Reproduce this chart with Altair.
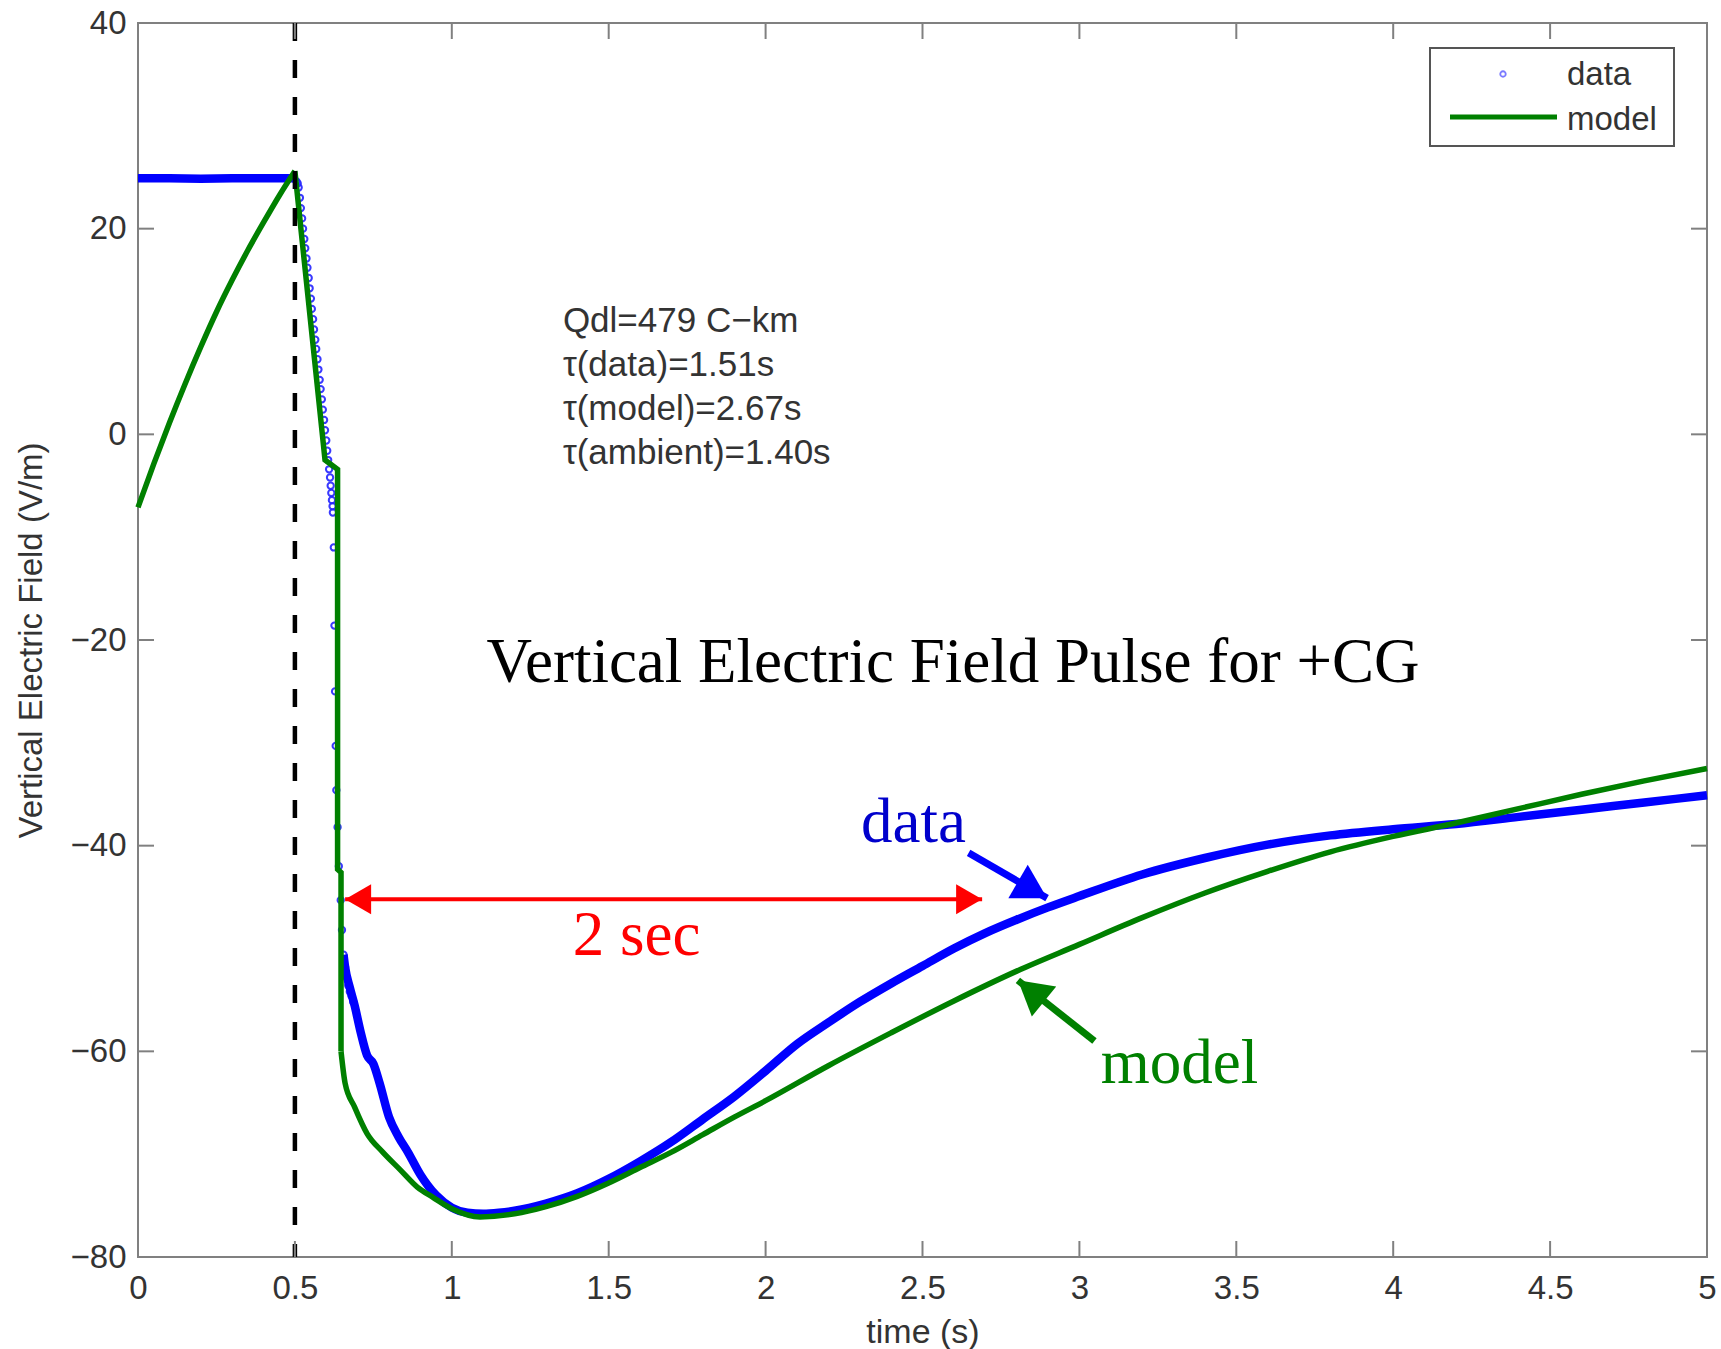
import altair as alt
import pandas as pd

# ---------------- values ----------------
# measured data, flat part before the flash
data_flat_t = [0.0, 0.1, 0.2, 0.3, 0.4, 0.5]
data_flat_v = [24.9, 24.9, 24.85, 24.9, 24.9, 24.9]

# measured data, fast drop (individual markers visible)
data_drop_t = [0.505, 0.509, 0.512, 0.516, 0.519, 0.523, 0.526, 0.530, 0.533, 0.537, 0.540,
               0.544, 0.547, 0.551, 0.554, 0.558, 0.561, 0.565, 0.568, 0.572,
               0.575, 0.579, 0.582, 0.586, 0.589, 0.593, 0.596, 0.600, 0.603, 0.606,
               0.609, 0.612, 0.614, 0.616, 0.618, 0.620, 0.621, 0.624,
               0.626, 0.628, 0.630, 0.632, 0.636, 0.640, 0.646, 0.650, 0.655, 0.660,
               0.665, 0.670, 0.675, 0.680, 0.686]
data_drop_v = [24.6, 24.4, 24.0, 23.0, 22.0, 21.0, 20.0, 19.0, 18.1, 17.1, 16.2,
               15.2, 14.2, 13.2, 12.2, 11.2, 10.2, 9.2, 8.3, 7.3,
               6.3, 5.3, 4.4, 3.4, 2.4, 1.4, 0.4, -0.6, -1.6, -2.5,
               -3.4, -4.2, -5.0, -5.7, -6.4, -7.0, -7.6, -11.0,
               -18.6, -25.0, -30.3, -34.6, -38.2, -42.0, -45.3, -48.2, -50.6, -51.8,
               -52.8, -53.6, -54.2, -54.6, -55.2]

# measured data, recovery (dense markers)
data_main_t = [0.655, 0.66, 0.675, 0.69, 0.71, 0.73, 0.75, 0.77, 0.80, 0.83, 0.86, 0.90, 0.95,
               1.00, 1.05, 1.10, 1.15, 1.20, 1.30, 1.40, 1.50, 1.60, 1.70, 1.80, 1.90,
               2.00, 2.10, 2.20, 2.30, 2.40, 2.50, 2.60, 2.70, 2.80, 2.90, 3.00, 3.20,
               3.40, 3.60, 3.80, 4.00, 4.20, 4.40, 4.60, 4.80, 5.00]
data_main_v = [-50.6, -51.8, -53.8, -55.5, -58.2, -60.4, -61.2, -63.1, -66.4, -68.3, -69.8, -72.0, -74.0,
               -75.2, -75.7, -75.8, -75.7, -75.5, -74.8, -73.8, -72.4, -70.7, -68.8, -66.6, -64.4,
               -61.9, -59.3, -57.2, -55.2, -53.4, -51.7, -50.0, -48.5, -47.2, -46.0, -44.9, -42.8,
               -41.2, -39.9, -39.0, -38.4, -37.9, -37.2, -36.5, -35.8, -35.1]

# model curve: rise before the flash, sharp drop, recovery
model_rise_t = [0.0, 0.05, 0.1, 0.15, 0.2, 0.25, 0.3, 0.35, 0.4, 0.45, 0.5]
model_rise_v = [-7.1, -2.9, 1.1, 4.9, 8.5, 11.9, 15.0, 17.9, 20.6, 23.2, 25.6]
model_drop_t = [0.5, 0.596, 0.636, 0.636, 0.647, 0.647]
model_drop_v = [25.6, -2.5, -3.4, -42.3, -42.6, -60.0]
model_rec_t = [0.647, 0.66, 0.69, 0.73, 0.78, 0.835, 0.89, 0.94,
               1.0, 1.09, 1.2, 1.3, 1.4, 1.5, 1.6, 1.7, 1.8, 1.9, 2.0, 2.2, 2.4, 2.6, 2.8,
               3.0, 3.2, 3.4, 3.6, 3.8, 4.0, 4.2, 4.4, 4.6, 4.8, 5.0]
model_rec_v = [-60.0, -63.1, -65.4, -68.0, -69.8, -71.5, -73.2, -74.2,
               -75.3, -76.1, -75.8, -75.1, -74.1, -72.8, -71.3, -69.8, -68.1, -66.4, -64.8, -61.4, -58.2, -55.1, -52.2,
               -49.6, -47.0, -44.6, -42.5, -40.6, -39.1, -37.8, -36.4, -35.0, -33.7, -32.5]

x_ticks = [0, 0.5, 1, 1.5, 2, 2.5, 3, 3.5, 4, 4.5, 5]
y_ticks = [-80, -60, -40, -20, 0, 20, 40]

flash_time = [0.5]

stats_lines = ["Qdl=479 C\u2212km", "\u03c4(data)=1.51s", "\u03c4(model)=2.67s", "\u03c4(ambient)=1.40s"]
stats_t = [1.354, 1.354, 1.354, 1.354]
stats_v = [10.0, 5.7, 1.4, -2.9]

title_text = ["Vertical Electric Field Pulse for +CG"]
title_t = [2.597]
title_v = [-24.1]

span_label = ["2 sec"]
span_t = [1.589]
span_v = [-50.6]
span_from = [0.66]
span_to = [2.69]
span_level = [-45.2]

data_label = ["data"]
data_label_t = [2.471]
data_label_v = [-39.6]
data_arrow_from = [2.647, -40.7]
data_arrow_to = [2.897, -45.1]

model_label = ["model"]
model_label_t = [3.319]
model_label_v = [-63.1]
model_arrow_from = [3.048, -59.0]
model_arrow_to = [2.804, -53.1]

legend_names = ["data", "model"]

# ---------------- layout / style ----------------
W, H = 1569, 1234
BLUE = "#0000ff"
GREEN = "#008000"
RED = "#ff0000"
FRAME = "#808080"
LABEL = "#333333"
SANS = "Liberation Sans"
SERIF = "Liberation Serif"
TICK = 16
GREEN_W = 5.5

xscale = alt.Scale(domain=[0, 5], nice=False, zero=False)
yscale = alt.Scale(domain=[-80, 40], nice=False, zero=False)

x_axis = alt.Axis(values=x_ticks, format="~g", grid=False, domain=False, ticks=False,
                  labelFont=SANS, labelFontSize=33, labelColor=LABEL, labelPadding=15,
                  titleFont=SANS, titleFontSize=34, titleColor=LABEL, titleFontWeight="normal",
                  titlePadding=10, labelFlush=False)
y_axis = alt.Axis(values=y_ticks, format="d", grid=False, domain=False, ticks=False,
                  labelFont=SANS, labelFontSize=33, labelColor=LABEL, labelPadding=12,
                  titleFont=SANS, titleFontSize=33, titleColor=LABEL, titleFontWeight="normal",
                  titlePadding=22, labelFlush=False)


def X(field="t"):
    return alt.X(f"{field}:Q", scale=xscale, axis=x_axis, title="time (s)")


def Y(field="v"):
    return alt.Y(f"{field}:Q", scale=yscale, axis=y_axis, title="Vertical Electric Field (V/m)")


df_flat = pd.DataFrame({"t": data_flat_t, "v": data_flat_v})
df_drop = pd.DataFrame({"t": data_drop_t, "v": data_drop_v})
df_main = pd.DataFrame({"t": data_main_t, "v": data_main_v})

# data (blue): dense parts as thick line, sparse part as circles
flat_line = alt.Chart(df_flat).mark_line(color=BLUE, strokeWidth=8.5).encode(x=X(), y=Y())
main_line = alt.Chart(df_main).mark_line(color=BLUE, strokeWidth=8.5, interpolate="monotone").encode(x=X(), y=Y())
drop_pts = alt.Chart(df_drop).mark_point(shape="circle", filled=False, size=40, strokeWidth=2,
                                         color="#2424ff", opacity=0.9).encode(x=X(), y=Y())

model_rise = alt.Chart(pd.DataFrame({"t": model_rise_t, "v": model_rise_v})).mark_line(
    color=GREEN, strokeWidth=GREEN_W, interpolate="monotone").encode(x=X(), y=Y())
model_drop = alt.Chart(pd.DataFrame({"t": model_drop_t, "v": model_drop_v})).mark_line(
    color=GREEN, strokeWidth=GREEN_W, strokeJoin="miter").encode(x=X(), y=Y(), order="o:Q") \
    .transform_window(o="row_number()")
model_rec = alt.Chart(pd.DataFrame({"t": model_rec_t, "v": model_rec_v})).mark_line(
    color=GREEN, strokeWidth=GREEN_W, interpolate="monotone").encode(x=X(), y=Y())

# flash time dashed line
flash = alt.Chart(pd.DataFrame({"t": flash_time})).mark_rule(
    color="black", strokeWidth=4.5, strokeDash=[18, 19]).encode(x=X())

# inward ticks on all four sides
df_xt = pd.DataFrame({"t": x_ticks})
df_yt = pd.DataFrame({"v": y_ticks})
tick_style = dict(color=FRAME, strokeWidth=2)
xt_bottom = alt.Chart(df_xt).mark_rule(**tick_style).encode(x=X(), y=alt.value(H), y2=alt.value(H - TICK))
xt_top = alt.Chart(df_xt).mark_rule(**tick_style).encode(x=X(), y=alt.value(0), y2=alt.value(TICK))
yt_left = alt.Chart(df_yt).mark_rule(**tick_style).encode(y=Y(), x=alt.value(0), x2=alt.value(TICK))
yt_right = alt.Chart(df_yt).mark_rule(**tick_style).encode(y=Y(), x=alt.value(W), x2=alt.value(W - TICK))

# statistics text
stats = alt.Chart(pd.DataFrame({"t": stats_t, "v": stats_v, "s": stats_lines})).mark_text(
    font=SANS, fontSize=35, color=LABEL, align="left", baseline="alphabetic").encode(
    x=X(), y=Y(), text="s:N")

# big title inside the plot
big_title = alt.Chart(pd.DataFrame({"t": title_t, "v": title_v, "s": title_text})).mark_text(
    font=SERIF, fontSize=63, color="black", align="center", baseline="alphabetic").encode(
    x=X(), y=Y(), text="s:N")

# red 2-sec double arrow
df_span = pd.DataFrame({"t": span_from, "t2": span_to, "v": span_level})
span_shaft = alt.Chart(df_span).mark_rule(color=RED, strokeWidth=4).encode(
    x=X(), x2="t2:Q", y=Y())
span_left = alt.Chart(pd.DataFrame({"t": span_from, "v": span_level})).mark_point(
    shape="triangle-left", filled=True, size=900, color=RED, opacity=1, xOffset=13).encode(x=X(), y=Y())
span_right = alt.Chart(pd.DataFrame({"t": span_to, "v": span_level})).mark_point(
    shape="triangle-right", filled=True, size=900, color=RED, opacity=1, xOffset=-13).encode(x=X(), y=Y())
span_text = alt.Chart(pd.DataFrame({"t": span_t, "v": span_v, "s": span_label})).mark_text(
    font=SERIF, fontSize=63, color=RED, align="center", baseline="alphabetic").encode(
    x=X(), y=Y(), text="s:N")

# "data" label + arrow
df_da = pd.DataFrame({"t": [data_arrow_from[0]], "v": [data_arrow_from[1]],
                      "t2": [data_arrow_to[0]], "v2": [data_arrow_to[1]]})
data_shaft = alt.Chart(df_da).mark_rule(color=BLUE, strokeWidth=7).encode(
    x=X(), y=Y(), x2="t2:Q", y2="v2:Q")
data_head = alt.Chart(pd.DataFrame({"t": [data_arrow_to[0]], "v": [data_arrow_to[1]]})).mark_point(
    shape="triangle-up", filled=True, size=1500, color=BLUE, opacity=1, angle=120,
    xOffset=-14.5, yOffset=-8.3).encode(x=X(), y=Y())
data_text = alt.Chart(pd.DataFrame({"t": data_label_t, "v": data_label_v, "s": data_label})).mark_text(
    font=SERIF, fontSize=63, color="#0000cc", align="center", baseline="alphabetic").encode(
    x=X(), y=Y(), text="s:N")

# "model" label + arrow
df_ma = pd.DataFrame({"t": [model_arrow_from[0]], "v": [model_arrow_from[1]],
                      "t2": [model_arrow_to[0]], "v2": [model_arrow_to[1]]})
model_shaft = alt.Chart(df_ma).mark_rule(color=GREEN, strokeWidth=7).encode(
    x=X(), y=Y(), x2="t2:Q", y2="v2:Q")
model_head = alt.Chart(pd.DataFrame({"t": [model_arrow_to[0]], "v": [model_arrow_to[1]]})).mark_point(
    shape="triangle-up", filled=True, size=1500, color=GREEN, opacity=1, angle=309,
    xOffset=13.1, yOffset=10.5).encode(x=X(), y=Y())
model_text = alt.Chart(pd.DataFrame({"t": model_label_t, "v": model_label_v, "s": model_label})).mark_text(
    font=SERIF, fontSize=63, color=GREEN, align="center", baseline="alphabetic").encode(
    x=X(), y=Y(), text="s:N")

# legend box (drawn by hand, MATLAB style)
one = pd.DataFrame({"k": [0]})
leg_box = alt.Chart(one).mark_rect(fill="white", stroke="#555555", strokeWidth=2).encode(
    x=alt.value(1292), x2=alt.value(1536), y=alt.value(25), y2=alt.value(123))
leg_pt = alt.Chart(one).mark_point(shape="circle", filled=False, size=30, strokeWidth=1.8,
                                   color="#4444ff").encode(x=alt.value(1365), y=alt.value(51))
leg_line = alt.Chart(one).mark_rule(color=GREEN, strokeWidth=5).encode(
    x=alt.value(1312), x2=alt.value(1419), y=alt.value(94))
leg_text_data = alt.Chart(pd.DataFrame({"s": [legend_names[0]]})).mark_text(
    font=SANS, fontSize=33, color=LABEL, align="left", baseline="alphabetic").encode(
    x=alt.value(1429), y=alt.value(62), text="s:N")
leg_text_model = alt.Chart(pd.DataFrame({"s": [legend_names[1]]})).mark_text(
    font=SANS, fontSize=33, color=LABEL, align="left", baseline="alphabetic").encode(
    x=alt.value(1429), y=alt.value(107), text="s:N")

chart = alt.layer(
    flat_line, drop_pts, main_line, model_rise, model_drop, model_rec, flash,
    xt_bottom, xt_top, yt_left, yt_right,
    stats, big_title,
    span_shaft, span_left, span_right, span_text,
    data_shaft, data_head, data_text,
    model_shaft, model_head, model_text,
    leg_box, leg_pt, leg_line, leg_text_data, leg_text_model,
).properties(
    width=W, height=H,
    autosize=alt.AutoSizeParams(type="none"),
    padding={"left": 138, "top": 23, "right": 14, "bottom": 92},
    background="white",
).configure_view(stroke=FRAME, strokeWidth=2)

chart.save("out.html", embed_options={"renderer": "svg", "actions": False})
